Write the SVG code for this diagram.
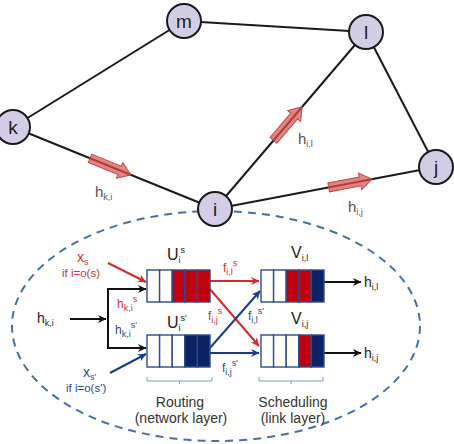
<svg xmlns="http://www.w3.org/2000/svg" width="454" height="444" viewBox="0 0 454 444">
<style>
text{font-family:"Liberation Sans",Arial,sans-serif}
.edge{stroke:#1a1a1a;stroke-width:2;fill:none}
.node{fill:#d3cde6;stroke:#1a1a1a;stroke-width:2}
.nlabel{font-size:19px;fill:#222;text-anchor:middle}
.flow{fill:#d9534f;fill-opacity:0.72;stroke:#c04848;stroke-width:1}
.glabel{font-size:15px;fill:#555}
.sub{font-size:9px}
.blk{stroke:#111;stroke-width:2;fill:none}
.red{stroke:#d42a2a;stroke-width:2;fill:none}
.blu{stroke:#1e3c86;stroke-width:2;fill:none}
.cell{stroke:#2c4c8c;stroke-width:1.4;fill:#fff}
.rc{fill:#c0000f}
.nc{fill:#0c2262}
.rt{fill:#d03434}
.bt{fill:#2c4a8c}
.brace{stroke:#7f9ccc;stroke-width:1;fill:none}
.cap{font-size:14px;fill:#333;text-anchor:middle}
</style>
<defs>
<marker id="ab" markerWidth="10" markerHeight="10" refX="9" refY="5" orient="auto" markerUnits="userSpaceOnUse"><path d="M1,1 L9.5,5 L1,9 L3.5,5 Z" fill="#111"/></marker>
<marker id="ar" markerWidth="10" markerHeight="10" refX="9" refY="5" orient="auto" markerUnits="userSpaceOnUse"><path d="M1,1 L9.5,5 L1,9 L3.5,5 Z" fill="#d42a2a"/></marker>
<marker id="au" markerWidth="10" markerHeight="10" refX="9" refY="5" orient="auto" markerUnits="userSpaceOnUse"><path d="M1,1 L9.5,5 L1,9 L3.5,5 Z" fill="#1e3c86"/></marker>
<path id="blockarrow" d="M0,-4.5 L32,-4.5 L32,-8.5 L44,0 L32,8.5 L32,4.5 L0,4.5 Z"/>
</defs>

<ellipse id="node-detail" cx="216" cy="326" rx="204" ry="115" fill="none" stroke="#4a70a2" stroke-width="2" stroke-dasharray="8 6"/>

<g id="connectors">
<line class="edge" x1="13" y1="127" x2="184" y2="21"/>
<line class="edge" x1="184" y1="21" x2="366" y2="32"/>
<line class="edge" x1="366" y1="32" x2="436" y2="167"/>
<line class="edge" x1="13" y1="127" x2="215" y2="209"/>
<line class="edge" x1="215" y1="209" x2="366" y2="32"/>
<line class="edge" x1="215" y1="209" x2="436" y2="167"/>
<use href="#blockarrow" class="flow" transform="translate(90,158.3) rotate(22.1)"/>
<use href="#blockarrow" class="flow" transform="translate(273.4,140.4) rotate(-49.5)"/>
<use href="#blockarrow" class="flow" transform="translate(328.7,187.4) rotate(-10.8)"/>

<path class="blk" d="M70,319 H106"/>
<path class="blk" d="M70,319 H106" marker-end="url(#ab)"/>
<path class="blk" d="M108,318 V289 H146" marker-end="url(#ab)"/>
<path class="blk" d="M108,318 V348 H146" marker-end="url(#ab)"/>
<path class="blk" d="M323,282 H361" marker-end="url(#ab)"/>
<path class="blk" d="M323,353 H361" marker-end="url(#ab)"/>
<path class="red" d="M108,263 L146,282" marker-end="url(#ar)"/>
<path class="red" d="M210,281 H259" marker-end="url(#ar)"/>
<path class="red" d="M209,288 L259,346" marker-end="url(#ar)"/>
<path class="blu" d="M110,373 L146,354" marker-end="url(#au)"/>
<path class="blu" d="M210,353 H259" marker-end="url(#au)"/>
<path class="blu" d="M209,349 L260,291" marker-end="url(#au)"/>
</g>

<g id="node-m"><circle class="node" cx="184" cy="21" r="17"/><text class="nlabel" x="184" y="27.5">m</text></g>
<g id="node-l"><circle class="node" cx="366" cy="32" r="17"/><text class="nlabel" x="366" y="38.5">l</text></g>
<g id="node-k"><circle class="node" cx="13" cy="127" r="17"/><text class="nlabel" x="13" y="133.5">k</text></g>
<g id="node-j"><circle class="node" cx="436" cy="167" r="17"/><text class="nlabel" x="436" y="173.5">j</text></g>
<g id="node-i"><circle class="node" cx="215" cy="209" r="17"/><text class="nlabel" x="215" y="215.5">i</text></g>

<g id="graph-labels">
<text class="glabel" x="95" y="197">h<tspan class="sub" dy="3">k,i</tspan></text>
<text class="glabel" x="298" y="144">h<tspan class="sub" dy="3">i,l</tspan></text>
<text class="glabel" x="348" y="212">h<tspan class="sub" dy="3">i,j</tspan></text>
</g>

<g id="queue-Us">
<rect class="cell" x="147" y="270" width="12.6" height="32"/>
<rect class="cell" x="159.6" y="270" width="12.6" height="32"/>
<rect class="cell rc" x="172.2" y="270" width="12.6" height="32"/>
<rect class="cell rc" x="184.8" y="270" width="12.6" height="32"/>
<rect class="cell rc" x="197.4" y="270" width="12.6" height="32"/>
<text x="167" y="260" font-size="16" fill="#222">U<tspan class="sub" dy="3">i</tspan><tspan class="sub" dy="-10">s</tspan></text>
</g>
<g id="queue-Us2">
<rect class="cell" x="147" y="335" width="12.6" height="32"/>
<rect class="cell" x="159.6" y="335" width="12.6" height="32"/>
<rect class="cell" x="172.2" y="335" width="12.6" height="32"/>
<rect class="cell nc" x="184.8" y="335" width="12.6" height="32"/>
<rect class="cell nc" x="197.4" y="335" width="12.6" height="32"/>
<text x="167" y="328" font-size="16" fill="#222">U<tspan class="sub" dy="3">i</tspan><tspan class="sub" dy="-10">s'</tspan></text>
</g>
<g id="queue-Vil">
<rect class="cell" x="261" y="270" width="12.6" height="32"/>
<rect class="cell" x="273.6" y="270" width="12.6" height="32"/>
<rect class="cell rc" x="286.2" y="270" width="12.6" height="32"/>
<rect class="cell rc" x="298.8" y="270" width="12.6" height="32"/>
<rect class="cell nc" x="311.4" y="270" width="12.6" height="32"/>
<text x="291" y="258" font-size="16" fill="#222">V<tspan class="sub" dy="3">i,l</tspan></text>
</g>
<g id="queue-Vij">
<rect class="cell" x="261" y="335" width="12.6" height="32"/>
<rect class="cell" x="273.6" y="335" width="12.6" height="32"/>
<rect class="cell" x="286.2" y="335" width="12.6" height="32"/>
<rect class="cell rc" x="298.8" y="335" width="12.6" height="32"/>
<rect class="cell nc" x="311.4" y="335" width="12.6" height="32"/>
<text x="291" y="324" font-size="16" fill="#222">V<tspan class="sub" dy="3">i,j</tspan></text>
</g>

<g id="detail-labels">
<text x="37" y="323" font-size="14" fill="#222">h<tspan class="sub" dy="3">k,i</tspan></text>
<text x="364" y="287" font-size="14" fill="#222">h<tspan class="sub" dy="3">i,l</tspan></text>
<text x="364" y="358" font-size="14" fill="#222">h<tspan class="sub" dy="3">i,j</tspan></text>
<text class="rt" x="77" y="262" font-size="14">x<tspan class="sub" dy="3">s</tspan></text>
<text class="rt" x="62" y="277" font-size="11.5">if i=o(s)</text>
<text class="bt" x="83" y="377" font-size="14">x<tspan class="sub" dy="3">s'</tspan></text>
<text class="bt" x="66" y="392" font-size="11.5">if i=o(s')</text>
<text class="rt" x="117" y="308" font-size="12">h<tspan class="sub" dy="3">k,i</tspan><tspan class="sub" dy="-9">s</tspan></text>
<text class="bt" x="115" y="334" font-size="12">h<tspan class="sub" dy="3">k,i</tspan><tspan class="sub" dy="-9">s'</tspan></text>
<text class="rt" x="223" y="272" font-size="12">f<tspan class="sub" dy="3">i,l</tspan><tspan class="sub" dy="-9">s</tspan></text>
<text class="rt" x="208" y="320" font-size="12">f<tspan class="sub" dy="3">i,j</tspan><tspan class="sub" dy="-9">s</tspan></text>
<text class="bt" x="248" y="320" font-size="12">f<tspan class="sub" dy="3">i,l</tspan><tspan class="sub" dy="-9">s'</tspan></text>
<text class="bt" x="222" y="372" font-size="12">f<tspan class="sub" dy="3">i,j</tspan><tspan class="sub" dy="-9">s'</tspan></text>
</g>

<g id="routing-brace">
<path class="brace" d="M147,377 V381 H212 V377 M179.5,381 V384"/>
<text class="cap" x="180" y="407">Routing</text>
<text class="cap" x="181" y="423">(network layer)</text>
</g>
<g id="scheduling-brace">
<path class="brace" d="M259,377 V381 H323 V377 M291,381 V384"/>
<text class="cap" x="293" y="407">Scheduling</text>
<text class="cap" x="293" y="423">(link layer)</text>
</g>
</svg>
